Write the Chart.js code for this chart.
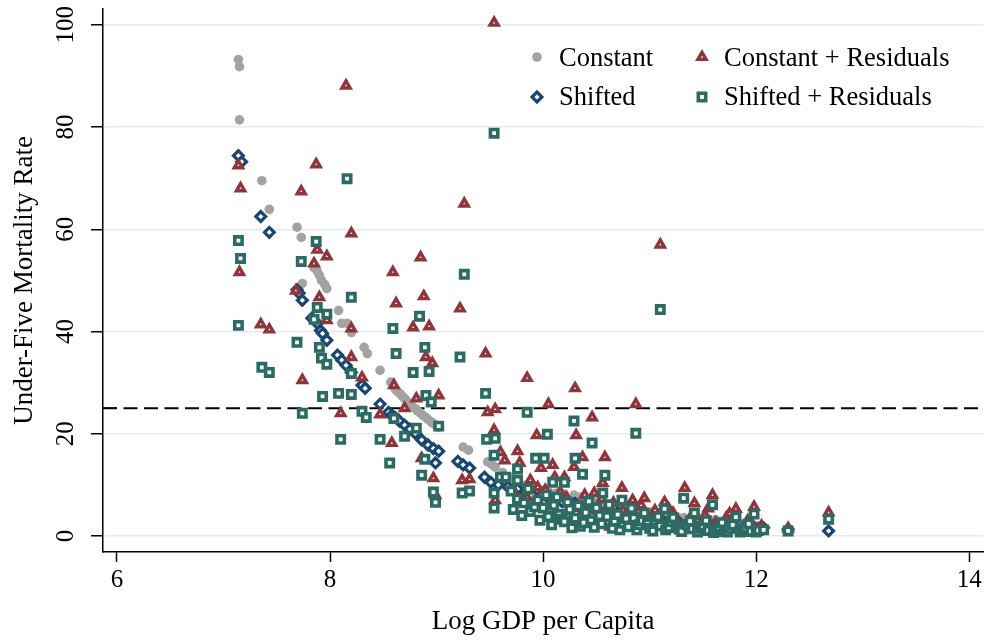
<!DOCTYPE html>
<html>
<head>
<meta charset="utf-8">
<script src="https://cdn.jsdelivr.net/npm/chart.js@4.4.1/dist/chart.umd.min.js"></script>
<style>
  html, body { margin: 0; padding: 0; background: #fff; }
  #wrap { width: 992px; height: 641px; }
</style>
</head>
<body>
<div id="wrap"><canvas id="chart" width="992" height="641"></canvas></div>
<script>
// Axis ticks
const xTicks = [6, 8, 10, 12, 14];
const yTicks = [0, 20, 40, 60, 80, 100];
const threshold = 25;

const seriesNames = ['Constant', 'Shifted', 'Constant + Residuals', 'Shifted + Residuals'];

// [log GDP per capita, under-five mortality rate]
const constantPts = [
  [7.14,93.2],[7.15,91.8],[7.15,81.4],[7.36,69.5],[7.43,63.9],[7.69,60.4],[7.73,58.4],[7.74,49.4],
  [7.85,52.5],[7.88,51.8],[7.90,51.0],[7.92,50.0],[7.95,49.2],[7.97,48.4],[8.08,44.1],[8.11,41.6],
  [8.16,41.6],[8.20,39.8],[8.32,36.9],[8.35,35.7],[8.47,32.4],[8.57,30.1],[8.61,28.8],[8.63,28.3],
  [8.66,27.8],[8.68,27.3],[8.70,26.9],[8.72,26.4],[8.75,25.8],[8.77,25.4],[8.80,24.9],[8.82,24.5],
  [8.85,24.0],[8.87,23.6],[8.90,23.2],[8.92,22.8],[8.95,22.3],[8.97,22.0],[9.00,21.6],[9.02,21.3],
  [9.25,17.4],[9.30,16.8],[9.48,14.5],[9.52,14.0],[9.55,13.5],[9.62,12.4],[9.70,11.3],[9.76,10.3],
  [9.82,9.9],[9.90,9.4],[9.98,9.0],[10.05,8.7],[10.12,8.4],[10.20,8.2],[10.29,8.0],[10.35,7.6],
  [10.42,7.1],[10.50,6.6],[10.58,6.3],[10.66,6.0],[10.70,5.9],[10.78,5.5],[10.85,5.2],[10.95,4.9],
  [11.02,4.7],[11.07,4.6],[11.14,4.2],[11.20,3.9],[11.26,3.7],[11.32,3.6],[11.40,3.5],[11.48,3.4],
  [11.55,3.3],[11.62,3.2],[11.70,3.0],[11.78,2.7],[11.85,2.5],[11.92,2.3],[11.98,2.1],[12.05,1.9],
  [12.30,1.4],[12.68,1.0]
];

const shiftedPts = [
  [7.14,74.4],[7.17,73.2],[7.35,62.5],[7.43,59.4],[7.69,48.2],[7.71,47.5],[7.74,46.1],[7.83,42.6],
  [7.88,41.6],[7.91,40.2],[7.93,39.6],[7.97,38.3],[8.07,35.4],[8.11,34.4],[8.15,33.4],[8.20,32.0],
  [8.30,29.5],[8.33,28.9],[8.47,25.8],[8.55,24.2],[8.58,23.6],[8.61,23.2],[8.65,22.5],[8.70,21.7],
  [8.75,20.9],[8.80,20.1],[8.86,18.8],[8.92,17.8],[8.97,17.1],[9.02,16.6],[8.99,14.3],[9.20,14.6],
  [9.25,13.9],[9.31,13.3],[9.45,11.5],[9.51,10.5],[9.58,10.0],[9.67,9.6],[9.76,9.2],[9.83,8.6],
  [9.90,8.0],[9.98,7.8],[10.05,7.4],[10.10,7.0],[10.18,6.7],[10.25,6.5],[10.30,6.4],[10.36,5.8],
  [10.42,5.1],[10.50,4.9],[10.58,4.7],[10.64,4.6],[10.70,4.5],[10.79,4.1],[10.88,3.9],[10.95,3.7],
  [11.02,3.6],[11.10,3.5],[11.20,2.7],[11.28,2.6],[11.36,2.4],[11.45,2.3],[11.52,2.2],[11.60,2.1],
  [11.70,2.0],[11.80,1.9],[11.90,1.8],[11.98,1.7],[12.07,1.6],[12.30,1.3],[12.68,1.0]
];

const constantResPts = [
  [7.14,72.5],[7.16,68.0],[7.15,51.6],[7.35,41.4],[7.43,40.4],[7.73,67.4],[7.74,30.5],[7.68,48.0],
  [7.85,53.3],[7.87,72.7],[7.88,56.0],[7.90,46.7],[7.97,54.7],[7.97,42.2],[8.10,24.0],[8.15,88.1],
  [8.20,59.2],[8.20,40.6],[8.20,35.0],[8.30,31.0],[8.47,23.8],[8.58,18.2],[8.59,51.6],[8.60,29.5],
  [8.62,45.5],[8.70,25.0],[8.78,40.8],[8.81,26.9],[8.85,54.5],[8.86,15.2],[8.88,46.9],[8.90,35.0],
  [8.93,41.0],[8.96,33.8],[8.97,11.3],[8.99,8.0],[9.02,27.5],[9.22,44.5],[9.24,10.9],[9.26,65.0],
  [9.31,11.1],[9.46,35.7],[9.48,24.2],[9.54,100.4],[9.54,20.7],[9.55,24.8],[9.55,7.0],[9.60,16.4],
  [9.64,14.8],[9.72,9.0],[9.76,16.6],[9.78,14.3],[9.85,30.9],[9.85,7.5],[9.88,10.9],[9.94,19.7],
  [9.95,9.5],[9.98,13.3],[10.02,9.0],[10.05,25.8],[10.05,6.0],[10.09,13.9],[10.11,11.5],[10.12,4.8],
  [10.16,8.6],[10.20,11.5],[10.22,7.5],[10.26,3.2],[10.28,5.5],[10.29,13.5],[10.30,28.9],[10.30,2.1],
  [10.31,19.7],[10.35,4.0],[10.37,15.4],[10.39,8.0],[10.42,6.2],[10.45,5.0],[10.46,23.2],[10.48,8.4],
  [10.52,3.5],[10.55,7.2],[10.56,10.4],[10.58,15.4],[10.60,5.5],[10.63,1.8],[10.66,6.5],[10.68,3.0],
  [10.74,9.4],[10.75,5.0],[10.79,3.8],[10.82,2.8],[10.84,7.0],[10.87,25.8],[10.90,4.8],[10.92,6.0],
  [10.95,7.4],[11.00,3.2],[11.05,5.0],[11.08,3.5],[11.10,57.0],[11.12,2.5],[11.14,6.6],[11.18,5.3],
  [11.22,4.5],[11.28,2.2],[11.33,9.4],[11.38,3.5],[11.42,6.4],[11.45,3.0],[11.48,1.8],[11.52,4.0],
  [11.55,5.4],[11.59,8.0],[11.62,2.6],[11.68,1.5],[11.72,3.6],[11.75,4.4],[11.78,2.0],[11.81,5.3],
  [11.88,1.8],[11.92,3.0],[11.95,2.6],[11.98,5.7],[12.02,1.4],[12.05,2.0],[12.30,1.5],[12.68,4.6]
];

const shiftedResPts = [
  [7.14,57.8],[7.16,54.3],[7.14,41.2],[7.36,33.0],[7.43,32.0],[7.69,37.9],[7.73,53.7],[7.74,24.0],
  [7.85,42.4],[7.87,57.6],[7.88,44.7],[7.90,36.9],[7.92,34.8],[7.93,27.3],[7.97,43.4],[7.97,33.6],
  [8.08,27.9],[8.10,18.9],[8.16,69.9],[8.20,46.7],[8.20,31.8],[8.20,27.7],[8.30,24.4],[8.34,23.2],
  [8.47,18.9],[8.56,14.3],[8.59,40.6],[8.60,23.0],[8.62,35.7],[8.70,19.5],[8.78,32.0],[8.81,21.1],
  [8.84,43.0],[8.86,11.9],[8.89,36.9],[8.89,15.0],[8.90,27.5],[8.93,32.2],[8.95,26.2],[8.97,8.6],
  [8.99,6.6],[9.02,21.5],[9.22,35.0],[9.24,8.4],[9.26,51.2],[9.31,8.8],[9.46,27.9],[9.47,18.9],
  [9.54,78.8],[9.54,15.8],[9.54,8.4],[9.54,5.5],[9.55,19.1],[9.60,11.5],[9.65,11.5],[9.70,8.8],
  [9.72,5.2],[9.76,13.1],[9.76,10.9],[9.76,7.2],[9.80,4.0],[9.82,6.5],[9.85,24.2],[9.86,9.2],
  [9.88,4.8],[9.92,5.7],[9.93,15.2],[9.95,7.0],[9.97,3.1],[10.00,5.5],[10.01,15.2],[10.03,8.0],
  [10.04,19.9],[10.05,3.8],[10.08,2.2],[10.09,10.5],[10.10,6.0],[10.13,7.6],[10.15,4.2],[10.18,3.3],
  [10.20,10.5],[10.20,2.8],[10.23,6.6],[10.25,5.2],[10.27,1.6],[10.29,22.5],[10.30,15.2],[10.30,3.5],
  [10.33,5.9],[10.35,1.9],[10.37,12.1],[10.38,2.6],[10.40,4.6],[10.43,6.8],[10.45,3.0],[10.46,18.2],
  [10.48,1.7],[10.50,5.5],[10.53,4.0],[10.55,2.4],[10.56,8.4],[10.58,11.9],[10.60,3.8],[10.62,6.1],
  [10.65,1.5],[10.67,2.9],[10.70,4.2],[10.72,1.2],[10.74,7.0],[10.75,2.5],[10.78,3.4],[10.80,1.8],
  [10.83,5.4],[10.85,3.5],[10.87,20.1],[10.88,1.2],[10.90,2.2],[10.93,3.0],[10.95,4.5],[10.98,2.4],
  [11.00,1.5],[11.03,1.0],[11.05,3.0],[11.08,3.8],[11.10,44.3],[11.10,2.0],[11.14,5.3],[11.15,1.2],
  [11.18,1.7],[11.20,2.8],[11.22,3.6],[11.25,1.6],[11.28,1.3],[11.30,0.9],[11.32,7.4],[11.35,2.2],
  [11.38,2.9],[11.40,1.4],[11.42,4.5],[11.45,0.8],[11.48,1.5],[11.50,2.0],[11.53,3.0],[11.55,1.1],
  [11.59,6.1],[11.60,0.7],[11.63,1.2],[11.65,1.8],[11.68,2.6],[11.70,0.9],[11.73,0.8],[11.75,1.5],
  [11.78,2.2],[11.81,3.7],[11.85,0.8],[11.88,1.2],[11.90,1.6],[11.93,2.4],[11.95,0.9],[11.98,4.3],
  [12.00,0.8],[12.02,1.1],[12.07,1.2],[12.30,1.0],[12.68,3.3]
];

const SERIF = '"Liberation Serif", "Times New Roman", Times, serif';
const toXY = pts => pts.map(p => ({ x: p[0], y: p[1] }));

const styles = [
  { pointStyle: 'circle',   radius: 4.8, backgroundColor: '#a3a3a3', borderColor: '#a3a3a3', borderWidth: 0 },
  { pointStyle: 'rectRot',  radius: 4.9, backgroundColor: '#ffffff', borderColor: '#1a476f', borderWidth: 3.2 },
  { pointStyle: 'triangle', radius: 4.7, backgroundColor: '#ffffff', borderColor: '#90353b', borderWidth: 3.4 },
  { pointStyle: 'rect',     radius: 5.2, backgroundColor: '#ffffff', borderColor: '#2b6b63', borderWidth: 3.6 }
];
const seriesData = [constantPts, shiftedPts, constantResPts, shiftedResPts];
// later series sit on top of earlier ones
const drawOrder = [4, 3, 2, 1];

const datasets = seriesNames.map((name, i) => ({
  label: name,
  data: toXY(seriesData[i]),
  pointStyle: styles[i].pointStyle,
  pointRadius: styles[i].radius,
  pointBackgroundColor: styles[i].backgroundColor,
  pointBorderColor: styles[i].borderColor,
  pointBorderWidth: styles[i].borderWidth,
  showLine: false,
  order: drawOrder[i]
}));

function drawMarker(ctx, st, x, y) {
  ctx.save();
  ctx.fillStyle = st.backgroundColor;
  ctx.strokeStyle = st.borderColor;
  ctx.lineWidth = st.borderWidth;
  Chart.helpers.drawPoint(ctx, { pointStyle: st.pointStyle, radius: st.radius, rotation: 0, borderWidth: st.borderWidth }, x, y);
  ctx.restore();
}

const overlay = {
  id: 'overlay',
  beforeDatasetsDraw(chart) {
    const { ctx, chartArea, scales } = chart;
    const yp = scales.y.getPixelForValue(threshold);
    ctx.save();
    ctx.strokeStyle = '#000';
    ctx.lineWidth = 2;
    ctx.setLineDash([14, 6.5]);
    ctx.beginPath();
    ctx.moveTo(chartArea.left, yp);
    ctx.lineTo(chartArea.right, yp);
    ctx.stroke();
    ctx.setLineDash([]);
    ctx.lineWidth = 1.5;
    ctx.beginPath();
    ctx.moveTo(chartArea.left, yp);
    ctx.lineTo(chartArea.left + 14, yp);
    ctx.stroke();
    ctx.restore();
  },
  afterDraw(chart) {
    const { ctx, scales } = chart;
    // vertical tick labels on the y axis
    ctx.save();
    ctx.fillStyle = '#000';
    ctx.font = '25px ' + SERIF;
    ctx.textAlign = 'center';
    ctx.textBaseline = 'middle';
    scales.y.ticks.forEach(t => {
      const yp = scales.y.getPixelForValue(t.value);
      ctx.save();
      ctx.translate(66, yp);
      ctx.rotate(-Math.PI / 2);
      ctx.fillText(String(t.value), 0, 0);
      ctx.restore();
    });
    ctx.restore();

    // legend: two columns, two rows
    const cols = [537, 702];
    const rows = [57, 97];
    const baselines = [66, 105];
    ctx.save();
    ctx.font = '26.5px ' + SERIF;
    ctx.textAlign = 'left';
    ctx.textBaseline = 'alphabetic';
    const layout = [[0, 0, 0], [1, 0, 1], [2, 1, 0], [3, 1, 1]];
    layout.forEach(([i, c, r]) => {
      drawMarker(ctx, styles[i], cols[c], rows[r]);
      ctx.fillStyle = '#000';
      ctx.fillText(seriesNames[i], cols[c] + 22, baselines[r]);
    });
    ctx.restore();
  }
};

new Chart(document.getElementById('chart').getContext('2d'), {
  type: 'scatter',
  data: { datasets },
  options: {
    responsive: false,
    animation: false,
    devicePixelRatio: 1,
    events: [],
    layout: { padding: { top: 8, right: 4, left: 0, bottom: 0 } },
    plugins: { legend: { display: false }, tooltip: { enabled: false } },
    scales: {
      x: {
        type: 'linear',
        min: 5.869, max: 14.131,
        afterBuildTicks: s => { s.ticks = xTicks.map(v => ({ value: v })); },
        afterFit: s => { s.height = 89; },
        border: { display: true, color: '#000', width: 1.5 },
        grid: { drawOnChartArea: false, drawTicks: true, tickLength: 10, tickColor: '#000', tickWidth: 1.5 },
        ticks: { color: '#000', font: { family: SERIF, size: 25 }, padding: 3, maxRotation: 0, autoSkip: false },
        title: { display: true, text: 'Log GDP per Capita', color: '#000', font: { family: SERIF, size: 27 }, padding: { top: 0, bottom: 3 } }
      },
      y: {
        type: 'linear',
        min: -3.125, max: 103.125,
        afterBuildTicks: s => { s.ticks = yTicks.map(v => ({ value: v })); },
        afterFit: s => { s.width = 103; },
        border: { display: true, color: '#000', width: 1.5 },
        grid: { color: '#e3ecee', lineWidth: 1.5, drawTicks: true, tickLength: 12, tickColor: '#000', tickWidth: 1.5 },
        ticks: { display: false },
        title: { display: true, text: 'Under-Five Mortality Rate', color: '#000', font: { family: SERIF, size: 27 }, padding: { top: 9, bottom: 0 } }
      }
    }
  },
  plugins: [overlay]
});
</script>
</body>
</html>
